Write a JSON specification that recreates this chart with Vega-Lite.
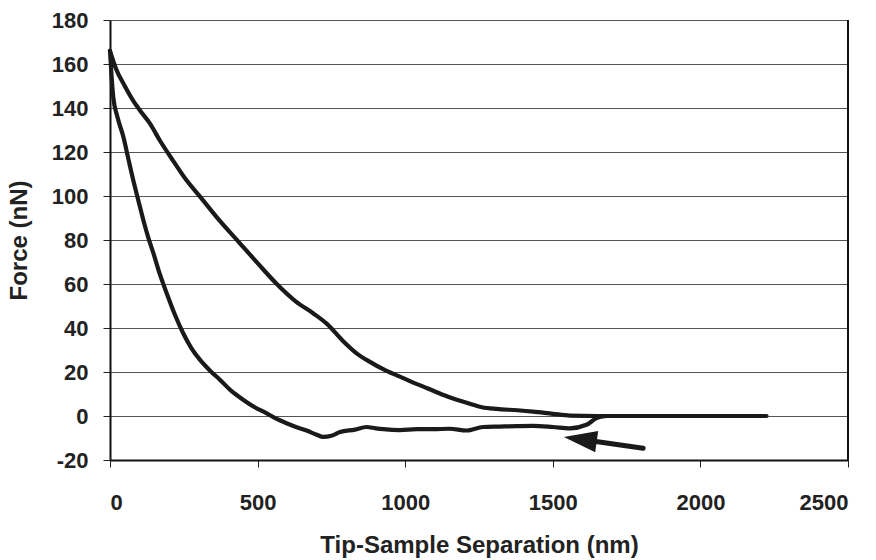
{
  "$schema": "https://vega.github.io/schema/vega-lite/v6.json",
  "width": 738,
  "height": 440,
  "autosize": {"type": "none"},
  "padding": {"left": 110, "top": 20, "right": 28, "bottom": 100},
  "background": "white",
  "config": {
    "view": {"stroke": null},
    "font": "Liberation Sans",
    "axis": {
      "labelFont": "Liberation Sans",
      "labelFontWeight": "bold",
      "labelFontSize": 22,
      "labelColor": "#222",
      "titleFont": "Liberation Sans",
      "titleFontWeight": "bold",
      "titleFontSize": 24,
      "titleColor": "#222",
      "domainColor": "#111",
      "domainWidth": 2,
      "tickColor": "#222",
      "tickWidth": 1,
      "tickSize": 7,
      "gridColor": "#555",
      "gridWidth": 1.2,
      "gridOpacity": 1
    }
  },
  "datasets": {
    "curves": [
      {"s": "upper", "x": 0, "f": 166},
      {"s": "upper", "x": 20, "f": 158},
      {"s": "upper", "x": 50, "f": 150},
      {"s": "upper", "x": 80, "f": 143},
      {"s": "upper", "x": 101, "f": 139},
      {"s": "upper", "x": 135, "f": 133},
      {"s": "upper", "x": 170, "f": 125},
      {"s": "upper", "x": 214, "f": 116},
      {"s": "upper", "x": 260, "f": 107},
      {"s": "upper", "x": 305, "f": 99.7},
      {"s": "upper", "x": 370, "f": 89},
      {"s": "upper", "x": 440, "f": 78.5},
      {"s": "upper", "x": 500, "f": 69.5},
      {"s": "upper", "x": 565, "f": 60},
      {"s": "upper", "x": 630, "f": 52},
      {"s": "upper", "x": 688, "f": 46.7},
      {"s": "upper", "x": 734, "f": 42},
      {"s": "upper", "x": 790, "f": 34},
      {"s": "upper", "x": 840, "f": 28},
      {"s": "upper", "x": 869, "f": 25.5},
      {"s": "upper", "x": 937, "f": 20.5},
      {"s": "upper", "x": 982, "f": 17.9},
      {"s": "upper", "x": 1040, "f": 14.5},
      {"s": "upper", "x": 1095, "f": 11.5},
      {"s": "upper", "x": 1150, "f": 8.5},
      {"s": "upper", "x": 1208, "f": 6},
      {"s": "upper", "x": 1260, "f": 4},
      {"s": "upper", "x": 1310, "f": 3.2},
      {"s": "upper", "x": 1380, "f": 2.6},
      {"s": "upper", "x": 1433, "f": 2},
      {"s": "upper", "x": 1500, "f": 1},
      {"s": "upper", "x": 1558, "f": 0.2},
      {"s": "upper", "x": 1650, "f": 0},
      {"s": "upper", "x": 1800, "f": 0},
      {"s": "upper", "x": 2000, "f": 0},
      {"s": "upper", "x": 2224, "f": 0},
      {"s": "lower", "x": 0, "f": 166},
      {"s": "lower", "x": 5, "f": 155},
      {"s": "lower", "x": 11, "f": 145},
      {"s": "lower", "x": 25, "f": 136},
      {"s": "lower", "x": 45, "f": 127},
      {"s": "lower", "x": 62, "f": 117},
      {"s": "lower", "x": 79, "f": 107},
      {"s": "lower", "x": 96, "f": 98},
      {"s": "lower", "x": 113, "f": 89},
      {"s": "lower", "x": 130, "f": 81},
      {"s": "lower", "x": 147, "f": 74},
      {"s": "lower", "x": 170, "f": 64},
      {"s": "lower", "x": 192, "f": 55.8},
      {"s": "lower", "x": 220, "f": 46},
      {"s": "lower", "x": 248, "f": 37.6},
      {"s": "lower", "x": 275, "f": 31},
      {"s": "lower", "x": 305, "f": 25.5},
      {"s": "lower", "x": 340, "f": 20.5},
      {"s": "lower", "x": 373, "f": 16.4},
      {"s": "lower", "x": 410, "f": 11.5},
      {"s": "lower", "x": 452, "f": 7.3},
      {"s": "lower", "x": 490, "f": 4},
      {"s": "lower", "x": 531, "f": 1.2},
      {"s": "lower", "x": 560, "f": -1},
      {"s": "lower", "x": 598, "f": -3.3},
      {"s": "lower", "x": 630, "f": -5},
      {"s": "lower", "x": 666, "f": -6.6},
      {"s": "lower", "x": 700, "f": -8.5},
      {"s": "lower", "x": 722, "f": -9.5},
      {"s": "lower", "x": 750, "f": -9},
      {"s": "lower", "x": 779, "f": -7.3},
      {"s": "lower", "x": 830, "f": -6.2},
      {"s": "lower", "x": 869, "f": -5},
      {"s": "lower", "x": 900, "f": -5.6},
      {"s": "lower", "x": 926, "f": -6},
      {"s": "lower", "x": 982, "f": -6.4},
      {"s": "lower", "x": 1040, "f": -6},
      {"s": "lower", "x": 1095, "f": -6},
      {"s": "lower", "x": 1150, "f": -5.8},
      {"s": "lower", "x": 1208, "f": -6.6},
      {"s": "lower", "x": 1264, "f": -5},
      {"s": "lower", "x": 1320, "f": -4.8},
      {"s": "lower", "x": 1380, "f": -4.6},
      {"s": "lower", "x": 1433, "f": -4.5},
      {"s": "lower", "x": 1500, "f": -5},
      {"s": "lower", "x": 1558, "f": -5.6},
      {"s": "lower", "x": 1614, "f": -4},
      {"s": "lower", "x": 1648, "f": -1},
      {"s": "lower", "x": 1682, "f": 0}
    ],
    "arrow": [
      {"x": 1593, "f": -10.6, "x2": 1806, "f2": -14.7}
    ],
    "border": [
      {"x": 2500}
    ]
  },
  "layer": [
    {
      "data": {"name": "border"},
      "mark": {"type": "rule", "color": "#111", "strokeWidth": 2},
      "encoding": {
        "x": {"field": "x", "type": "quantitative", "scale": {"domain": [0, 2500], "nice": false}}
      }
    },
    {
      "data": {"name": "curves"},
      "mark": {"type": "line", "color": "#1a1a1a", "strokeWidth": 4.2, "strokeJoin": "round", "strokeCap": "round", "interpolate": "monotone"},
      "encoding": {
        "x": {
          "field": "x", "type": "quantitative",
          "scale": {"domain": [0, 2500], "nice": false},
          "axis": {
            "title": "Tip-Sample Separation (nm)",
            "values": [0, 500, 1000, 1500, 2000, 2500],
            "labelExpr": "'' + datum.value",
            "grid": false,
            "labelPadding": 25,
            "titlePadding": 20
          }
        },
        "y": {
          "field": "f", "type": "quantitative",
          "scale": {"domain": [-20, 180], "nice": false},
          "axis": {
            "title": "Force (nN)",
            "values": [-20, 0, 20, 40, 60, 80, 100, 120, 140, 160, 180],
            "labelExpr": "'' + datum.value",
            "grid": true,
            "labelPadding": 15,
            "titlePadding": 20
          }
        },
        "detail": {"field": "s"}
      }
    },
    {
      "data": {"name": "arrow"},
      "mark": {"type": "rule", "color": "#1a1a1a", "strokeWidth": 5, "strokeCap": "round"},
      "encoding": {
        "x": {"field": "x", "type": "quantitative"},
        "y": {"field": "f", "type": "quantitative"},
        "x2": {"field": "x2"},
        "y2": {"field": "f2"}
      }
    },
    {
      "data": {"name": "arrow"},
      "mark": {"type": "point", "shape": "M-1,0L1,-0.65L1,0.65Z", "filled": true, "color": "#1a1a1a", "opacity": 1, "size": 1100, "angle": 8},
      "encoding": {
        "x": {"field": "x", "type": "quantitative"},
        "y": {"field": "f", "type": "quantitative"}
      }
    }
  ]
}
